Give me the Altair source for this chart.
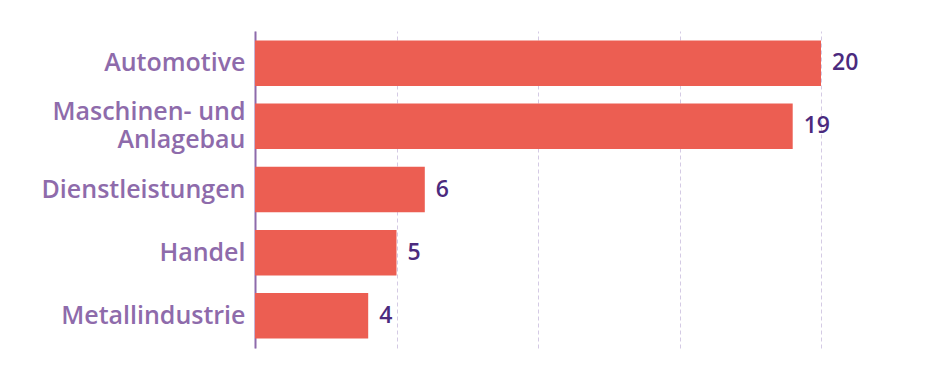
import altair as alt
import pandas as pd

categories = ["Automotive", "Maschinen- und|Anlagebau", "Dienstleistungen", "Handel", "Metallindustrie"]
values = [20, 19, 6, 5, 4]

df = pd.DataFrame({"cat": categories, "val": values})

FONT = "Open Sans"
y_enc = alt.Y("cat:N", sort=categories, title=None,
              scale=alt.Scale(paddingInner=0.28, paddingOuter=0.15),
              axis=alt.Axis(labelExpr="split(datum.label, '|')", labelFont=FONT,
                            labelFontSize=25, labelFontWeight=600, labelColor="#8e6bab",
                            labelPadding=10, labelLineHeight=28, ticks=False,
                            labelOffset={"condition": {"test": "indexof(datum.value, '|') >= 0", "value": -14}, "value": 0},
                            domainColor="#8e6bab", domainWidth=2, labelLimit=400))
x_enc = alt.X("val:Q", title=None,
              scale=alt.Scale(domain=[0, 20], nice=False),
              axis=alt.Axis(values=[0, 5, 10, 15, 20], labels=False, ticks=False, domain=False,
                            grid=True, gridColor="#d4cae4", gridDash=[4, 3], gridWidth=1))

bars = alt.Chart(df).mark_bar(color="#ec5e52").encode(x=x_enc, y=y_enc)
text = alt.Chart(df).mark_text(align="left", baseline="middle", dx=11, font=FONT,
                               fontSize=23, fontWeight=600, color="#4b2a7e").encode(
    x="val:Q", y=alt.Y("cat:N", sort=categories), text="val:Q")

chart = (bars + text).properties(
    width=566, height=317,
    autosize=alt.AutoSizeParams(type="none"),
    padding={"left": 247, "top": 23, "right": 99, "bottom": 18},
).configure_view(stroke=None)

chart.save("out.html", embed_options={"renderer": "svg", "actions": False})
